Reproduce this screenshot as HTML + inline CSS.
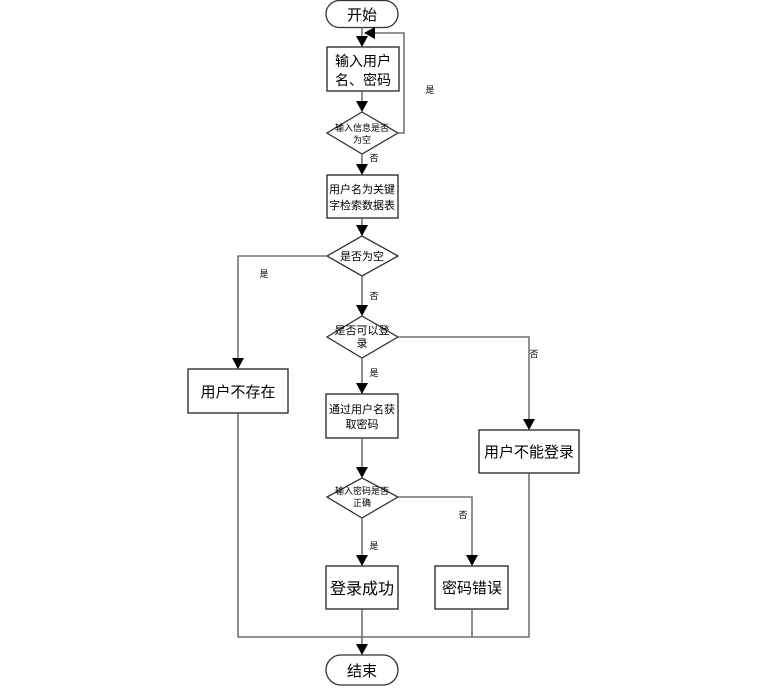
<!DOCTYPE html>
<html><head><meta charset="utf-8"><style>
body{margin:0;background:#fff}
svg{display:block}
text{font-family:"Liberation Sans","Noto Sans CJK SC",sans-serif;fill:#000;text-anchor:middle}
</style></head><body>
<svg width="759" height="688" viewBox="0 0 759 688" xmlns="http://www.w3.org/2000/svg">
<defs><marker id="a" markerWidth="12" markerHeight="12" refX="10" refY="6" orient="auto" markerUnits="userSpaceOnUse"><path d="M0,0 L11,6 L0,12 z" fill="#000"/></marker></defs>
<g stroke="#555" stroke-width="1.3" fill="none">
<rect x="326" y="0.5" width="72" height="27" rx="13.5" fill="#fff" stroke="#333"/>
<rect x="327" y="47" width="72" height="44" fill="#fff" stroke="#222"/>
<polygon points="362,112 398,133 362,154 327,133" fill="#fff" stroke="#333"/>
<rect x="327" y="175" width="71" height="43" fill="#fff" stroke="#222"/>
<polygon points="362,236 398,256 362,276 327,256" fill="#fff" stroke="#333"/>
<polygon points="362,316 398,337 362,358 327,337" fill="#fff" stroke="#333"/>
<rect x="188" y="369" width="100" height="44" fill="#fff" stroke="#222"/>
<rect x="326" y="394" width="72" height="44" fill="#fff" stroke="#222"/>
<rect x="479" y="430" width="100" height="43" fill="#fff" stroke="#222"/>
<polygon points="362,478 398,497 362,518 327,497" fill="#fff" stroke="#333"/>
<rect x="326" y="566" width="72" height="43" fill="#fff" stroke="#222"/>
<rect x="435" y="566" width="73" height="43" fill="#fff" stroke="#222"/>
<rect x="326" y="655" width="72" height="30" rx="15" fill="#fff" stroke="#333"/>
<path d="M362,27 V46" marker-end="url(#a)"/>
<path d="M362,91 V111" marker-end="url(#a)"/>
<path d="M398,133 H404 V33 H365" marker-end="url(#a)"/>
<path d="M362,154 V174" marker-end="url(#a)"/>
<path d="M362,218 V235" marker-end="url(#a)"/>
<path d="M327,256 H238 V368" marker-end="url(#a)"/>
<path d="M362,276 V315" marker-end="url(#a)"/>
<path d="M398,337 H529 V429" marker-end="url(#a)"/>
<path d="M362,358 V393" marker-end="url(#a)"/>
<path d="M362,438 V477" marker-end="url(#a)"/>
<path d="M398,497 H472 V565" marker-end="url(#a)"/>
<path d="M362,518 V565" marker-end="url(#a)"/>
<path d="M238,413 V637 H529 V473"/>
<path d="M472,609 V637"/>
<path d="M362,609 V654" marker-end="url(#a)"/>
</g>
<text x="362" y="20" font-size="15">开始</text>
<text x="363" y="66" font-size="14">输入用户</text>
<text x="363" y="85" font-size="14">名、密码</text>
<text x="362" y="131" font-size="9">输入信息是否</text>
<text x="362" y="143" font-size="9">为空</text>
<text x="430" y="93" font-size="9">是</text>
<text x="374" y="161" font-size="9">否</text>
<text x="362" y="193" font-size="11">用户名为关键</text>
<text x="362" y="209" font-size="11">字检索数据表</text>
<text x="362" y="260" font-size="11">是否为空</text>
<text x="264" y="277" font-size="9">是</text>
<text x="374" y="299" font-size="9">否</text>
<text x="362" y="334" font-size="11">是否可以登</text>
<text x="362" y="347" font-size="11">录</text>
<text x="534" y="357" font-size="9">否</text>
<text x="374" y="376" font-size="9">是</text>
<text x="238" y="397" font-size="15">用户不存在</text>
<text x="362" y="413" font-size="11">通过用户名获</text>
<text x="362" y="428" font-size="11">取密码</text>
<text x="529" y="457" font-size="15">用户不能登录</text>
<text x="362" y="494" font-size="9">输入密码是否</text>
<text x="362" y="506" font-size="9">正确</text>
<text x="463" y="518" font-size="9">否</text>
<text x="374" y="549" font-size="9">是</text>
<text x="362" y="594" font-size="16">登录成功</text>
<text x="472" y="593" font-size="15">密码错误</text>
<text x="362" y="676" font-size="15">结束</text>
</svg>
</body></html>
